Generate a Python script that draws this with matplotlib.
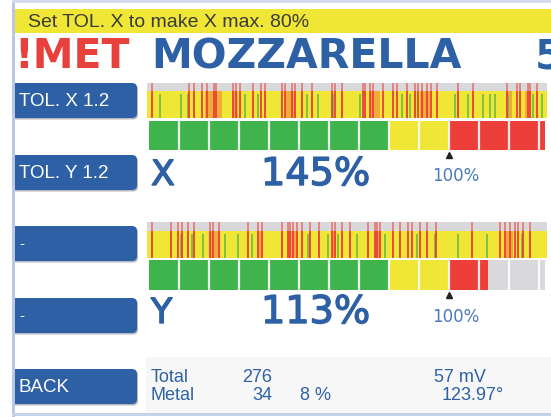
import matplotlib
matplotlib.use("Agg")
import matplotlib.pyplot as plt
import matplotlib.patheffects as pe
from matplotlib.patches import FancyBboxPatch, Rectangle

# ---------------- data ----------------
banner_text = "Set TOL. X to make X max. 80%"
title_flag = "!MET"
title_product = "MOZZARELLA"
title_extra = "5"
button_labels = ["TOL. X 1.2", "TOL. Y 1.2", "-", "-", "BACK"]

channels = ["X", "Y"]
channel_values = [145, 113]          # percent
reference_pct = 100
green_limit = 80
yellow_limit = 100
block_step = 10
scale_max = 132

# spike positions (percent of scale) read from the signal strips
red_x1 = [1.0, 13.3, 15.0, 17.7, 19.3, 21.7, 22.3, 28.0, 29.0, 30.3, 34.7, 37.3, 38.7,
          44.3, 45.3, 47.7, 48.7, 51.0, 54.3, 61.0, 62.0, 64.3, 71.3, 72.0, 73.7, 74.7,
          78.0, 81.3, 82.7, 86.0, 88.7, 89.7, 91.0, 92.7, 94.0, 96.0, 103.0, 108.0,
          119.3, 122.7, 123.7, 126.3, 127.0, 129.3]
green_x1 = [3.7, 10.7, 13.0, 32.0, 36.3, 52.7, 56.3, 61.3, 70.3, 84.3, 87.0, 88.7,
            102.0, 106.3, 111.3, 113.7, 115.3, 119.7, 128.0, 131.0]
orange_spans1 = [(18.7, 24.3), (27.7, 29.7), (45.3, 49.0), (73.7, 77.0),
                 (90.3, 93.7), (119.3, 121.0), (125.3, 127.3)]

red_x2 = [1.0, 7.3, 9.7, 11.0, 13.0, 15.0, 20.3, 21.3, 23.3, 33.0, 36.3, 37.7, 44.3,
          46.3, 47.0, 48.0, 49.3, 51.0, 53.7, 56.7, 61.0, 62.0, 64.3, 67.0, 73.0, 75.3,
          76.0, 77.0, 81.3, 83.7, 86.3, 87.7, 90.3, 92.7, 95.7, 107.7, 117.0, 118.7,
          120.3, 122.0, 123.0, 124.7, 127.0]
green_x2 = [10.7, 14.3, 18.0, 25.3, 29.7, 34.3, 53.0, 59.7, 63.0, 69.3, 78.7, 89.3,
            95.3, 103.0, 112.7, 124.3]
orange_spans2 = [(20.3, 23.7), (36.3, 37.7), (46.3, 49.3), (61.0, 62.3),
                 (75.3, 77.0), (118.7, 121.3)]

signal_level = 0.76
green_level = 0.68

stats_labels = ["Total", "Metal"]
stats_counts = ["276", "34"]
stats_pct = ["", "8 %"]
stats_right = ["57 mV", "123.97°"]

# ---------------- styling ----------------
W, H = 551, 417
BLUE = "#2e60a6"
RED = "#ec3f3a"
GREEN = "#3fb34c"
YELLOW = "#efe636"
GRAY = "#d9d9db"
ORANGE = "#f09a3a"
LGREEN = "#79c043"
BORDER = "#b9c9e3"

fig = plt.figure(figsize=(W / 100, H / 100), dpi=100)
fig.patch.set_facecolor("white")

bg = fig.add_axes([0, 0, 1, 1])
bg.set_xlim(0, W)
bg.set_ylim(H, 0)
bg.axis("off")

thick = [pe.withStroke(linewidth=1.0, foreground=BLUE)]


def pax(x0, y0, x1, y1):
    return fig.add_axes([x0 / W, 1 - y1 / H, (x1 - x0) / W, (y1 - y0) / H])


# light panel behind statistics
bg.add_patch(Rectangle((146, 357), W - 146, 56, color="#f7f7f7", lw=0))

# banner
bg.add_patch(Rectangle((14, 9), W - 14, 24, color=YELLOW, lw=0))
bg.text(28, 22, banner_text, fontsize=14, family="Liberation Sans",
        color="#3a3a3a", va="center", ha="left")

# title
bg.text(14, 57, title_flag, fontsize=29.5, weight="bold", family="DejaVu Sans",
        color="#e8413c", va="center", ha="left")
bg.text(151, 57, title_product, fontsize=29.5, weight="bold", family="DejaVu Sans",
        color=BLUE, va="center", ha="left")
bg.text(535, 57, title_extra, fontsize=29.5, weight="bold", family="DejaVu Sans",
        color=BLUE, va="center", ha="left", clip_on=False)

# buttons
btn_tops = [83, 155, 226, 298, 369]
for lab, top in zip(button_labels, btn_tops):
    bg.add_patch(FancyBboxPatch((4, top + 1.5), 134, 35,
                                boxstyle="round,pad=0,rounding_size=5",
                                fc="#7a7f88", ec="none", alpha=0.55))
    bg.add_patch(FancyBboxPatch((3, top), 134, 35,
                                boxstyle="round,pad=0,rounding_size=5",
                                fc=BLUE, ec="none"))
    bg.text(19, top + 18, lab, fontsize=13.5 if lab != "-" else 11,
            family="Liberation Sans", color="white", va="center", ha="left")

# borders
bg.add_patch(Rectangle((0, 0), 12, H, color="white", lw=0))
bg.add_patch(Rectangle((12, 0), 3, H, color=BORDER, lw=0))
bg.add_patch(Rectangle((12, 0), W, 3, color="#d3dcea", lw=0))
bg.add_patch(Rectangle((12, 413), W, 3, color="#c6d2e6", lw=0))

# ---------------- strips ----------------
rows = [
    dict(strip=(83, 118), blocks=(121, 150), text_y=175, red=red_x1, green=green_x1,
         orange=orange_spans1),
    dict(strip=(222, 258), blocks=(260, 290), text_y=313, red=red_x2, green=green_x2,
         orange=orange_spans2),
]

for ch, val, r in zip(channels, channel_values, rows):
    s0, s1 = r["strip"]
    ax = pax(147, s0, 547, s1)
    ax.set_xlim(-0.7, 132.7)
    ax.set_ylim(0, 1)
    ax.axis("off")
    ax.add_patch(Rectangle((-0.7, 0), 133.4, 1, color=GRAY, lw=0, zorder=0))
    ax.fill_between([-0.7, 132.7], 0, signal_level, color=YELLOW, lw=0, zorder=1)
    for a, b in r["orange"]:
        ax.fill_between([a, b], 0, signal_level, color=ORANGE, alpha=0.75, lw=0, zorder=2)
    ax.vlines(r["green"], 0, green_level, color=LGREEN, lw=1.3, zorder=3)
    ax.vlines(r["red"], 0, signal_level, color=RED, lw=1.3, zorder=4)
    ax.vlines(r["red"], signal_level, 1, color=RED, lw=1.3, alpha=0.6, zorder=4)

    b0, b1 = r["blocks"]
    bx = pax(147, b0, 547, b1)
    bx.set_xlim(-0.7, 132.7)
    bx.set_ylim(0, 1)
    bx.axis("off")
    fill_to = min(val, scale_max)
    segs = [(0, green_limit, GREEN), (green_limit, yellow_limit, YELLOW),
            (yellow_limit, fill_to, RED), (fill_to, scale_max, GRAY)]
    for a, b, c in segs:
        if b > a:
            bx.barh(0.5, b - a, left=a, height=1, color=c, lw=0)
    for k in range(block_step, scale_max, block_step):
        bx.axvline(k, color="white", lw=1.6, alpha=0.9)
    bx.plot([reference_pct], [-0.17], marker="^", ms=5, color="#222222",
            clip_on=False, lw=0)
    bx.text(reference_pct + 2.3, -0.9, f"{reference_pct}%", fontsize=12,
            family="DejaVu Sans", color="#4a7abb", ha="center", va="center",
            clip_on=False)

    ty = r["text_y"]
    bg.text(151, ty, ch, fontsize=25, family="DejaVu Sans", color=BLUE,
            va="center", ha="left", path_effects=thick)
    bg.text(261, ty, f"{val}%", fontsize=27.5, family="DejaVu Sans", color=BLUE,
            va="center", ha="left", path_effects=thick)

# ---------------- statistics ----------------
for i, y in enumerate([378, 395]):
    bg.text(151, y, stats_labels[i], fontsize=13, family="Liberation Sans", color=BLUE,
            va="center", ha="left")
    bg.text(272, y, stats_counts[i], fontsize=13, family="Liberation Sans", color=BLUE,
            va="center", ha="right")
    if stats_pct[i]:
        bg.text(300, y, stats_pct[i], fontsize=13, family="Liberation Sans", color=BLUE,
                va="center", ha="left")
    bg.text(434 if i == 0 else 442, y, stats_right[i], fontsize=13,
            family="Liberation Sans", color=BLUE, va="center", ha="left")

fig.savefig("out.png", dpi=100, facecolor="white")
